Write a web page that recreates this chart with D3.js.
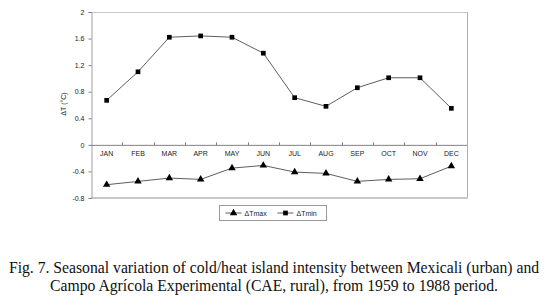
<!DOCTYPE html>
<html lang="en">
<head>
<meta charset="utf-8">
<title>Seasonal variation of cold/heat island intensity</title>
<script src="https://cdn.jsdelivr.net/npm/d3@7"></script>
<style>
    body { margin: 0; padding: 0; background: #fff; }
    .tick-label { font-family: "Liberation Sans", Arial, sans-serif; font-size: 7px; fill: #222; }
    .caption { font-family: "Liberation Serif", "Times New Roman", serif; font-size: 15.7px; fill: #111; }
</style>
</head>
<body>
<svg id="chart" width="546" height="303"></svg>
<script>
    var months = ["JAN", "FEB", "MAR", "APR", "MAY", "JUN", "JUL", "AUG", "SEP", "OCT", "NOV", "DEC"];
    var tmax = [-0.60, -0.55, -0.50, -0.52, -0.35, -0.31, -0.41, -0.43, -0.55, -0.52, -0.51, -0.32];
    var tmin = [0.67, 1.10, 1.62, 1.64, 1.62, 1.38, 0.71, 0.58, 0.86, 1.01, 1.01, 0.55];
    var yTicks = [-0.8, -0.4, 0, 0.4, 0.8, 1.2, 1.6, 2];

    var svg = d3.select("#chart");
    var plot = {left: 91, right: 467, top: 12, bottom: 198};

    var x = d3.scaleBand().domain(months).range([plot.left, plot.right]);
    var y = d3.scaleLinear().domain([-0.8, 2]).range([plot.bottom, plot.top]);

    // frame: top, right, bottom
    svg.append("line").attr("x1", plot.left).attr("x2", plot.right)
        .attr("y1", plot.top + 0.5).attr("y2", plot.top + 0.5)
        .attr("stroke", "#c8c8c8").attr("stroke-width", 1);
    svg.append("line").attr("x1", plot.right + 0.5).attr("x2", plot.right + 0.5)
        .attr("y1", plot.top).attr("y2", plot.bottom)
        .attr("stroke", "#b0b0b0").attr("stroke-width", 1);
    svg.append("line").attr("x1", plot.left).attr("x2", plot.right + 1)
        .attr("y1", plot.bottom).attr("y2", plot.bottom)
        .attr("stroke", "#c8c8c8").attr("stroke-width", 2);

    // y axis
    var yAxis = svg.append("g")
        .attr("transform", "translate(" + (plot.left + 0.5) + ",0)")
        .call(d3.axisLeft(y).tickValues(yTicks).tickSize(3).tickPadding(4)
            .tickFormat(function(d) { return d3.format("")(d).replace("\u2212", "-"); }));
    yAxis.select(".domain").attr("stroke", "#a0a0a0");
    yAxis.selectAll(".tick line").attr("stroke", "#808080");
    yAxis.selectAll(".tick text").attr("class", "tick-label");

    // zero line with category ticks
    var zx = svg.append("g").attr("transform", "translate(0," + (y(0) + 0.5) + ")");
    zx.append("line").attr("x1", plot.left).attr("x2", plot.right)
        .attr("stroke", "#808080").attr("stroke-width", 1);
    zx.selectAll(".bt").data(months.slice(1)).enter().append("line")
        .attr("x1", function(d) { return Math.round(x(d)) + 0.5; })
        .attr("x2", function(d) { return Math.round(x(d)) + 0.5; })
        .attr("y1", -3).attr("y2", 0)
        .attr("stroke", "#808080");
    zx.selectAll(".ml").data(months).enter().append("text")
        .attr("class", "tick-label")
        .attr("x", function(d) { return x(d) + x.bandwidth() / 2; })
        .attr("y", 11)
        .attr("text-anchor", "middle")
        .text(function(d) { return d; });

    // axis title
    svg.append("text").attr("class", "tick-label")
        .attr("transform", "translate(66,104) rotate(-90)")
        .attr("text-anchor", "middle")
        .text("\u0394T (\u00B0C)");

    var cx = function(d, i) { return x(months[i]) + x.bandwidth() / 2; };
    var line = d3.line().x(cx).y(function(d) { return y(d); });

    svg.append("path").datum(tmin).attr("d", line)
        .attr("fill", "none").attr("stroke", "#333").attr("stroke-width", 0.8);
    svg.append("path").datum(tmax).attr("d", line)
        .attr("fill", "none").attr("stroke", "#333").attr("stroke-width", 0.8);

    var sq = d3.symbol().type(d3.symbolSquare).size(22);
    var tri = d3.symbol().type(d3.symbolTriangle).size(24);

    svg.selectAll(".pmin").data(tmin).enter().append("path")
        .attr("d", sq)
        .attr("transform", function(d, i) { return "translate(" + cx(d, i) + "," + y(d) + ")"; })
        .attr("fill", "#000");
    svg.selectAll(".pmax").data(tmax).enter().append("path")
        .attr("d", tri)
        .attr("transform", function(d, i) { return "translate(" + cx(d, i) + "," + y(d) + ")"; })
        .attr("fill", "#000");

    // legend
    var lg = svg.append("g").attr("transform", "translate(219.5,205.5)");
    lg.append("rect").attr("width", 107).attr("height", 15)
        .attr("fill", "#fff").attr("stroke", "#999").attr("stroke-width", 1);
    var items = [{name: "\u0394Tmax", sym: tri}, {name: "\u0394Tmin", sym: sq}];
    var li = lg.selectAll(".li").data(items).enter().append("g")
        .attr("transform", function(d, i) { return "translate(" + (6 + i * 52) + ",7.5)"; });
    li.append("line").attr("x1", 0).attr("x2", 16).attr("stroke", "#333").attr("stroke-width", 0.8);
    li.append("path").attr("d", function(d) { return d.sym(); })
        .attr("transform", "translate(8,0)").attr("fill", "#000");
    li.append("text").attr("class", "tick-label")
        .attr("x", 19).attr("y", 2.5)
        .text(function(d) { return d.name; });

    // caption
    var caption = ["Fig. 7. Seasonal variation of cold/heat island intensity between Mexicali (urban) and",
                   "Campo Agr\u00EDcola Experimental (CAE, rural), from 1959 to 1988 period."];
    svg.selectAll(".caption").data(caption).enter().append("text")
        .attr("class", "caption")
        .attr("x", 274)
        .attr("y", function(d, i) { return 273 + i * 18; })
        .attr("text-anchor", "middle")
        .text(function(d) { return d; });
</script>
</body>
</html>
